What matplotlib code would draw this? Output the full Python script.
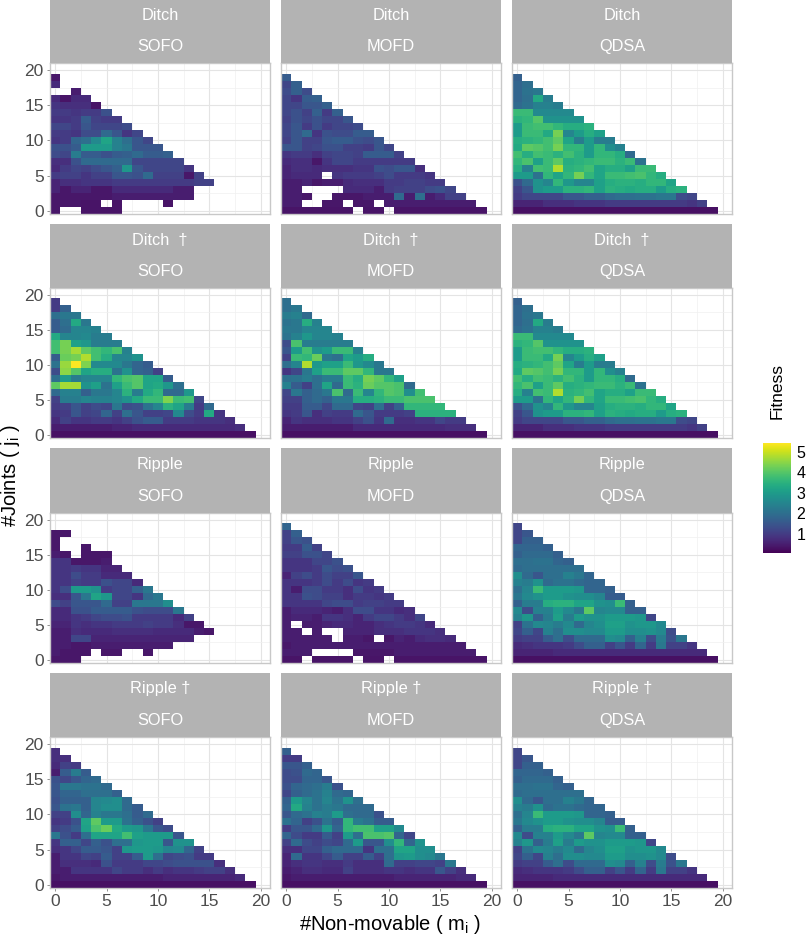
import numpy as np
import matplotlib
matplotlib.use("Agg")
import matplotlib.pyplot as plt

plt.rcParams["font.family"] = ["Liberation Sans", "DejaVu Sans"]
plt.rcParams["mathtext.fontset"] = "custom"
plt.rcParams["mathtext.rm"] = "Liberation Sans"

N = None  # no data for this cell

# each panel: rows from j=19 down to j=0, entries are m=0,1,2...
DITCH_SOFO = [
    [.4],
    [.7],
    [N, N, .5],
    [.7, .35, .7, .7],
    [.9, .8, .8, .8, .35],
    [1, 1, .9, 1, 1, 1.4],
    [.9, .9, 1, 1.6, 1.1, 1, 1],
    [1.2, 1.2, 1, 1.5, 1.2, 1.2, 1.2, 1.3],
    [1, 1, .9, 1.3, 1.3, 1.9, 1.5, .9, 1.2],
    [.9, 1, 1.8, 2, 2.6, 3.2, 2.4, 2, 1.5, 1.2],
    [1.4, 1.4, 1.6, 3, 3, 3, 2.4, 2.2, 1.5, 1.5, 1.5],
    [1.3, 1.2, 2.3, 1.6, 1.6, 1.4, 1.6, 1.7, 1.9, 1.6, 1.6, 1.7],
    [.8, .8, 1.4, 1.9, 1.9, 1.9, 1.9, 1.9, 1.2, 1.2, 1.2, 1.2, 1.2],
    [.7, 1, 1.2, 1.1, 1.3, 1.5, 1.7, 2.9, 1.5, 1.2, 1.2, 1.2, 1.2, .9],
    [1, 1.1, 1.1, .9, 1.1, 1.1, 1.5, 1.5, 1.4, 1.9, 1.1, 1.1, 1.1, .4, 1.1],
    [.6, .8, .8, .9, .9, .9, 1, 1, 1, 1, 1, 1, 1, 1, 1.1, 1.1],
    [.6, .4, .6, .6, .4, .4, .7, .7, .7, .7, .7, .7, .5, .5],
    [.4, .4, .4, .4, .4, .4, .5, .5, .5, .5, .5, .5, .5, .5],
    [.4, .4, .4, .35, .35, N, .35, N, N, N, N, .35],
    [.4, N, N, .35, .35, .35, .35],
]
DITCH_MOFD = [
    [1.6],
    [1.2, 1.7],
    [1.3, 1.7, 1.3],
    [1.2, .9, 1.6, 1.7],
    [1.2, 1.2, 1.5, 1.5, 1.7],
    [1.2, 1.4, 1.1, 1.7, 1, 1.7],
    [1.1, 1.4, 1.2, 1.4, 1.2, 1.2, 1.5],
    [1.2, 1.5, 1, 1.4, 1, 1.2, 1.2, 1.3],
    [1.2, 1.5, 1.9, .9, 1.4, 1.3, 1.3, 1.6, 1.6],
    [1.1, 1.5, 1.1, 1.1, 1.5, 1.6, 1.6, 1.4, 1.3, 1.5],
    [1.5, 1.5, 1.1, 1.2, 1.4, 1.4, 1.1, 1.1, 1, 1.5, 1.2],
    [.9, 1, 1, .8, 1.1, 1.2, 1.2, 1.1, 1.6, 1.6, 1.6, 1.1],
    [.7, .8, .8, .4, .9, 1.2, 1.2, 1, 1, 1, 1, 1, 1],
    [.6, .8, .8, .7, .8, .8, .8, .9, .9, 1.4, 1.3, 1.5, 1.5, .8],
    [.6, .7, .7, .7, N, .9, 1, 1, 1, 1.1, 1.3, 1, 1, 1, .9],
    [.5, .5, .6, .4, .5, .5, .7, .8, .8, .8, 1, 1, 1.1, 1.1, 1, 1],
    [.5, .5, N, N, N, N, .7, .7, .7, .5, 1, 1.1, 1.1, 1.1, 1.3, 1.4, 1.2],
    [.5, .5, .4, N, N, .4, .4, .4, .5, .5, .5, 1.9, .5, 2, .5, .7, 1.1, 1.1],
    [.5, .5, N, N, .4, .4, N, .4, .4, N, .5, .5, .5, .5, .5, .5, .5, .5, .5],
    [.35, .35, .35, .35, .35, .35, .35, N, .35, .35, N, .35, .35, .35, .35, .35, .35, .35, .35, .35],
]
DITCH_QDSA = [
    [1.7],
    [1.8, 2],
    [1.8, 2.1, 2.2],
    [1.8, 2, 3.3, 2.3],
    [1.9, 2.1, 2.4, 2.4, 2.3],
    [3.7, 3.7, 2.6, 2.6, 2.6, 2.6],
    [3.5, 3.6, 4, 2.8, 2.8, 2.8, 2.8],
    [3, 3.7, 3.8, 3.8, 3.6, 3.4, 3.4, 3.5],
    [3, 3.7, 3.7, 3.3, 4.3, 2.5, 3, 3.4, 3.1],
    [3.4, 3.5, 3.6, 3.8, 4.1, 3.2, 2.3, 3, 2.3, 2.3],
    [3.3, 4.1, 4, 3.8, 4.3, 3.6, 3.6, 3, 3.6, 2.7, 2.4],
    [3.8, 3.4, 3.8, 3.7, 3.5, 3.8, 3.5, 3, 3.6, 3.6, 3.4, 1.9],
    [3.6, 3.9, 3.1, 3.7, 4.1, 3.4, 3.5, 3.6, 3.7, 3.7, 3.5, 3.7, 2.1],
    [3.4, 2.4, 3.8, 3.7, 4.8, 3.5, 3.6, 3.8, 3.2, 3.4, 3.4, 3.1, 3.7, 3.7],
    [3, 3, 2.1, 3.6, 3.2, 3.6, 4.3, 3.6, 3.2, 3.7, 3.7, 3.8, 3.9, 3.6, 3.4],
    [1.4, 1.9, 2.8, 2.5, 3.6, 2.9, 2.5, 2.5, 3.1, 3.4, 3.5, 3.5, 3.4, 3.6, 3.6, 3.2],
    [1.1, 1.5, 2.8, 3, 3, 3.5, 3.5, 3.6, 3.1, 3.5, 3.4, 3.3, 3.4, 3.4, 3, 3.4, 3.5],
    [1, 1.2, 1.2, 1.2, 1.2, 1.5, 1.5, 1.7, 1.7, 1.9, 2, 2, 2.1, 2.1, 2.2, 2.2, 1.3, 1.2],
    [.6, .6, .6, .8, .8, .8, .9, .9, .9, 1, 1, 1, 1, 1, 1, 1, 1, .9, 1.1],
    [.3, .3, .3, .3, .3, .3, .3, .3, .3, .3, .3, .3, .3, .3, .3, .3, .3, .3, .3, .3],
]
DITCH_D_SOFO = [
    [1],
    [1, 1.7],
    [2, 2.2, 2.2],
    [1.6, 2, 3.3, 2.2],
    [1.6, 1.9, 2.5, 2.5, 2.4],
    [3.3, 2.5, 2.5, 2.6, 2.3, 2.3],
    [3.8, 4.3, 3.1, 2.9, 2.3, 2.3, 2.3],
    [3.8, 4.3, 4.7, 4.1, 3.8, 3.6, 3.9, 2.4],
    [1.6, 4.2, 4.3, 4.8, 3.8, 3.4, 2.5, 2.5, 2.8],
    [2.1, 4.6, 5.4, 4.4, 2.6, 2.6, 2.6, 2.2, 1.8, 1.6],
    [1.3, 4.5, 4, 3.2, 3.4, 3.4, 2.1, 2.8, 1.8, 1.7, 1.1],
    [2, 3, 2.3, 2.5, 2.5, 2.5, 3.6, 3.9, 4, 3.2, 3.2, 1.6],
    [4.1, 4.7, 4.7, 2.8, 3.1, 2.1, 3.1, 3.7, 4, 3.2, 3.3, 2.9, 2],
    [1.9, 2.4, 2.4, 1.7, 2.2, 2.2, 2.5, 3.5, 2.3, 3.3, 3.6, 1.9, 1.9, 2.9],
    [1.1, 2.3, 2.3, 2.5, 2.4, 2.4, 2.5, 2.8, 3.3, 3.7, 3.7, 4.4, 3.7, 3.8, 1.2],
    [1, 1.1, 1.5, 1.1, 1.3, 1.2, 2.2, 1.3, 1.4, 2.1, 2.5, 3.5, 3.2, 2.3, 1, 1.9],
    [.9, 1, 1.5, 1.1, 1.2, 1.8, 1.1, 2, 1.5, 1.1, 1.1, 1.2, 2.6, 1.3, 1, 3.3, .9],
    [.7, 1.1, .9, .9, 1, 1, .9, 1.1, 1.4, 1.6, 1.6, 1, 1, 1, .9, .9, .9, .8],
    [.5, .5, .5, .5, .5, .5, .6, .6, .7, .7, .7, .7, .7, .7, .7, .7, .7, .7, .8],
    [.3, .3, .3, .3, .3, .3, .3, .3, .3, .3, .3, .3, .3, .3, .3, .3, .3, .3, .3, .3],
]
DITCH_D_MOFD = [
    [2],
    [2, 2.2],
    [2.3, 2.4, 1.9],
    [2.1, 2.2, 3.4, 2.4],
    [2.2, 2.2, 2.5, 2.5, 2.5],
    [2.1, 2.4, 2.9, 2.5, 2.5, 2.4],
    [1.3, 3.9, 2.3, 2.3, 2.3, 2.3, 2.3],
    [1.5, 3, 3.8, 2.8, 3, 3.7, 3.7, 2.4],
    [1.1, 3.7, 3.6, 4.2, 2.2, 2, 3.2, 3, 3.4],
    [2, 2.5, 4.8, 2.9, 3.1, 3.1, 3.7, 2.9, 2.6, 2.2],
    [.9, 1.2, 2.2, 3.1, 3.7, 3.7, 4.1, 4.1, 3.6, 2.2, 2.2],
    [2, 2.1, 2.3, 2, 2.3, 2.3, 3.7, 3.4, 4.3, 4.1, 3.6, 3.1],
    [2.4, 1.6, 1.1, 2, 3.2, 1.9, 3.7, 3.5, 4.2, 4, 4, 3.9, 1.9],
    [1.2, 2.2, 1.7, 1.9, 2.2, 3.9, 1.9, 3.7, 2.5, 3.6, 4, 3.9, 2.7, 3.8],
    [1.1, 1.1, 1.7, 1.9, 1.7, 2.2, 2.2, 3.4, 3.4, 3.5, 3.7, 3.7, 3.9, 3.9, 3.9],
    [1, 1, 1.6, 1.6, 1.2, 1.9, 1.9, 1.2, 1.1, 2, 1.1, 1.7, 3.6, 3.6, 3.6, 3.6],
    [.9, 1, 1.5, .8, 1.1, 1, 1, 1.9, 1.5, 1, 1, 1, 1.1, 3.5, 3.5, 3.5, 3.5],
    [.6, .9, .8, .8, .8, .9, .9, 1.1, 1.4, .9, 1.9, .8, .8, .9, .9, 1.2, 1, 1],
    [.5, .5, .5, .5, .5, .5, .5, .7, .7, .7, .7, .7, .7, .7, .7, .7, .8, .8, .8],
    [.3, .3, .3, .3, .3, .3, .3, .3, .3, .3, .3, .3, .3, .3, .3, .3, .3, .3, .3, .3],
]
RIPPLE_SOFO = [
    [],
    [.4, .4],
    [.4],
    [.4, N, N, .4],
    [.5, .4, N, .4, .4, .4],
    [.9, .9, .4, .4, .4, .5],
    [.9, .9, 1, .9, .9, .6, .6],
    [.9, .9, 1.3, 1, 1, .7, .7, .7],
    [.9, .9, 1.1, 1, 1, 1.4, 1.2, 1.2, .7],
    [.9, 1.3, 3, 3, 2.8, 1, 1.2, 1.2, 1.7, 2.2],
    [.8, .8, 1.5, 2.2, 3.2, 2.9, 1.2, 1.2, .9, 1.9, 2.2],
    [1.3, 1.1, 1.5, 1.5, 1.5, 1.9, 1.1, 1.1, 2.2, 2.2, 2.2, 2.7],
    [.7, .7, 1.4, 1.4, 1.6, 1.6, 1.6, 1.6, 1.4, 1.3, 1.3, 1.3, 2.2],
    [.7, .7, .9, 1, 1.2, 1.3, 1.3, 1.4, 1, 1, 1, 1, .7, 1.1],
    [.6, .6, .9, .8, .9, .9, 1, 1, 1, 1.1, 1, 1, .8, .4, .4],
    [.5, .5, .8, .7, .7, .7, .8, .8, .8, .8, .7, .7, .7, .7, .5, .4],
    [.5, .5, 1.2, 1.2, .6, .6, .6, .6, .6, .6, .6, .6, .6, .6],
    [.5, .5, .4, .4, .5, .5, .5, .5, .5, .5, .5, .5],
    [.5, .4, .4, .4, N, .4, .4, N, N, .4],
    [.4, .4, .4],
]
RIPPLE_MOFD = [
    [1.8],
    [1.1, 1.7],
    [1.1, 1.5, 1.4],
    [1, 1, 1.6, 1.1],
    [1.1, 1.1, 1.4, 1.4, 1.2],
    [.9, .9, .9, 1.2, 1.2, 1.4],
    [.9, .9, .9, 1, 1.5, 1.3, 1.4],
    [.6, 1.1, 1.3, 1, 1.3, 1.1, 1.1, 1.5],
    [.9, .9, .9, 1, 1.3, 1, 1.3, .9, 1],
    [.9, .5, 1.3, 1.3, 1, 1, .8, 1.3, .9, 1],
    [.9, .9, 1.4, 1.3, 1.1, 1.1, .8, 1, 1, .9, 1],
    [.9, .9, .9, .9, 1.2, 1.3, 1.3, 1, 1.1, 1.1, 1, 1],
    [.5, .7, .7, .7, .6, .5, .8, 1.3, 1.3, .9, .9, .7, .8],
    [.5, .6, .6, .5, .9, .9, .8, .6, 1, 1.2, 1.2, 1, .8, 1.2],
    [.5, N, .5, .5, .6, .7, .7, .6, .6, .8, .9, 1, 1, .9, .7],
    [.5, .5, N, .5, N, N, .6, .6, .6, .8, .8, .8, .9, .9, .9, .8],
    [.5, .5, .5, .5, .5, N, .5, .5, .4, N, .4, .6, .5, .7, .8, .8, .7],
    [.4, .5, .5, .5, .5, .5, .5, .5, .5, .5, .5, .5, .5, .5, .5, .5, .5, .5],
    [.5, .5, .5, N, N, N, N, .4, .4, .4, .4, .5, .5, .5, .5, .5, .5, .5, .5],
    [.35, .35, N, .35, .35, .35, .35, N, .35, .35, N, .35, .35, .35, .35, .35, .35, .35, .35, .35],
]
RIPPLE_QDSA = [
    [1.2],
    [1.2, 1.5],
    [1.2, 1.7, 1.7],
    [1.8, 1.8, 1.8, 1.7],
    [1.7, 1.9, 1.9, 1.9, 1.7],
    [2, 2, 2.1, 2.1, 1.8, 1.7],
    [1.9, 2, 2, 2, 2, 2, 2],
    [2.7, 1.9, 1.5, 2, 2, 2.4, 2.2, 1.8],
    [2.4, 2.3, 2.8, 1.9, 2.1, 2.1, 1.9, 1.8, 1.8],
    [2, 2.5, 3.7, 3, 3, 3, 2.9, 1.8, 1.8, 1.7],
    [2.2, 2.6, 2.8, 3, 3, 2.8, 2.7, 2.7, 2.5, 1.6, 1.6],
    [1.7, 2.3, 2.3, 3.4, 3.5, 3.5, 3.2, 3.2, 2.8, 2.7, 3.7, 1.7],
    [2.6, 1.3, 2.4, 2.4, 3, 2.6, 2.2, 4.1, 2.5, 2.6, 2.6, 1.7, 1.7],
    [2.4, 2.9, 1.7, 2.3, 3.1, 2.3, 3, 2.8, 2.8, 3, 3, 3, 2.9, 1.2],
    [1.1, 2.1, 2.6, 2.5, 2.3, 2.6, 1.9, 2.5, 2.7, 3.1, 3.1, 2.8, 2.9, 2.9, 2.6],
    [1.2, 1.7, 1.2, 2.4, 2, 2.7, 2.7, 2.6, 2.6, 3, 3, 2.7, 2.7, 2.8, 2.6, 1.3],
    [1, 1.1, 1.1, 1.6, 2, 1.3, 1.9, 1.9, 1.9, 2.7, 2.6, 1.7, 2.4, 1.3, 2.3, 1.4, 2.2],
    [.7, .8, .9, .9, .9, 1, 1.3, 1.7, 1.7, 1.1, 1.5, 1, 1.8, 1, 2.2, 1.1, 1.1, .9],
    [.6, .6, .6, .6, .7, .7, .7, .7, .7, .7, .7, .7, .7, .7, .7, .7, .7, .7, .7],
    [.3, .3, .3, .3, .3, .3, .3, .3, .3, .3, .3, .3, .3, .3, .3, .3, .3, .3, .3, .3],
]
RIPPLE_D_SOFO = [
    [.8],
    [.8, .8],
    [.7, 1.1, 1],
    [.5, 1.6, 2.3, 1.6],
    [1.4, 1.2, 1.5, 1.8, 1.9],
    [1.5, 2.2, 2.2, 2.1, 2.1, 1.9],
    [1.5, 1.8, 1.8, 2, 2, 2, 1.7],
    [1.4, 1.7, 1.7, 1.7, 2.5, 2.6, 2.7, 1.9],
    [1.5, 2.1, 2.2, 1.7, 2.5, 2.7, 2.7, 1.9, 1.6],
    [1.1, 1.1, 2.7, 1.8, 2.4, 2.2, 2.2, 2, 1.6, 1.9],
    [.9, 1, 1.4, 3.2, 4.1, 3, 3, 2.1, 1.7, 1.4, 1.1],
    [1.1, 1.3, 1.6, 3.1, 3.9, 4.2, 3.3, 3, 2.9, 2.2, 1.5, 1.3],
    [2.2, 1.4, 1, 2, 3.2, 3.2, 3.2, 3.8, 3.1, 3, 3, 3, 1.5],
    [.9, 1.7, 1.7, 1.2, 1.7, 1.4, 2, 2, 2.9, 3, 3, 1.5, 2.8, 2.8],
    [.8, .9, 1.2, 1.6, 1.6, 1.5, 1.1, 2.9, 3, 3, 2.9, 2.5, 2.6, 1.8, 1.1],
    [.5, .9, .9, 1.2, 1.1, 1.6, 1.1, 1.1, 1.6, 3, 2, 1.2, 1.3, 1.4, 1, 1],
    [.5, .8, .8, .8, .7, 1.4, 1, 1, 1, 1.2, 1.2, 1.3, 1.4, 1.4, 1.4, 1.4, .8],
    [.5, .5, .9, .9, .9, .9, 1.2, 1, 1, .8, 1, .8, .9, .9, 1, 1.1, 1.1, .8],
    [.4, .5, .5, .5, .5, .5, .5, .5, .5, .5, .5, .6, .6, .6, .6, .6, .6, .6, .7],
    [.3, .3, .3, .3, .3, .3, .3, .3, .3, .3, .3, .3, .3, .3, .3, .3, .3, .3, .3, .3],
]
RIPPLE_D_MOFD = [
    [1.7],
    [1, 1],
    [1.5, 1.5, 1.7],
    [1.3, 1.4, 1.9, 1.8],
    [1.3, 1.3, 1.8, 1.8, 1.5],
    [1.4, 1.8, 1.9, 2, 2.3, 1.4],
    [1.2, 1.7, 1.9, 2.1, 2.4, 1.9, 1.8],
    [1.7, 3, 2.5, 2.1, 2.5, 2.1, 2.8, 2],
    [1.8, 3.3, 2.4, 2.1, 2.3, 2.2, 1.9, 1.9, 1.9],
    [1.5, 1.9, 2.1, 2.4, 2.3, 3, 2, 1.9, 1.9, 1.4],
    [2.1, 1.8, 1.1, 1.4, 2.1, 1.6, 3.6, 2.3, 2.1, 1.6, 1.6],
    [1, 1.5, 1.5, 1.9, 2.9, 1.8, 3.6, 3.8, 3.8, 3.1, 3.1, 2.6],
    [1.8, 1.3, 1, 1, 1.6, 1.1, 3, 2, 3.9, 3.9, 4, 1.8, 1.2],
    [1.1, 1.9, 1.3, 1.1, 1.3, 1.2, 1.9, 3, 1.5, 1.5, 2.7, 3.6, 1.8, 2.8],
    [.8, .8, 1.2, 1.2, 1.7, 1.9, 1.9, 1.9, .9, 2, 2, 3.2, 3.2, 2.7, 2.7],
    [.6, 1.9, .9, .9, 1.2, 1.6, 1.1, 1.1, 1.6, 1.1, 2, 2.9, 3, 2.7, 2.6, 2.2],
    [.6, .8, .9, .9, .8, .8, 1, .8, .8, .8, 1.9, 1.1, 1.1, 1.2, 1.2, 1.1, 2.2],
    [.5, .6, .8, .8, .7, .7, 1.1, .8, .8, .8, .9, .9, .8, .9, .9, 1.5, 1.1, .8],
    [.4, .5, .5, .5, .5, .5, .5, .5, .5, .5, .5, .6, .6, .6, .6, .6, .6, .7, .7],
    [.3, .3, .3, .3, .3, .3, .3, .3, .3, .3, .3, .3, .3, .3, .3, .3, .3, .3, .3, .3],
]

STRIP_TOP = ["Ditch", "Ditch  \u2020", "Ripple", "Ripple \u2020"]
STRIP_BOTTOM = ["SOFO", "MOFD", "QDSA"]
PANELS = [
    [DITCH_SOFO, DITCH_MOFD, DITCH_QDSA],
    [DITCH_D_SOFO, DITCH_D_MOFD, DITCH_QDSA],
    [RIPPLE_SOFO, RIPPLE_MOFD, RIPPLE_QDSA],
    [RIPPLE_D_SOFO, RIPPLE_D_MOFD, RIPPLE_QDSA],
]
AXIS_TICKS = [0, 5, 10, 15, 20]
MINOR_TICKS = [2.5, 7.5, 12.5, 17.5]
COLOR_TICKS = [1, 2, 3, 4, 5]

W, H = 809, 936
COL_X = [(50, 270), (281, 501), (512, 732)]
ROW_Y = [(0, 63, 214), (224, 288, 438), (448, 513, 663), (673, 737, 888)]
GRAY = "#b3b3b3"


def to_grid(rows):
    grid = np.full((20, 20), np.nan)
    for i, row in enumerate(rows):
        for m, val in enumerate(row):
            if val is not None:
                grid[19 - i, m] = val
    return grid


def px_axes(x0, y0, x1, y1):
    return fig.add_axes([x0 / W, 1 - y1 / H, (x1 - x0) / W, (y1 - y0) / H])


fig = plt.figure(figsize=(W / 100, H / 100), dpi=100)
edges = np.arange(21) - 0.5

for r, (strip_y, top, bottom) in enumerate(ROW_Y):
    for c, (left, right) in enumerate(COL_X):
        ax = px_axes(left, top, right, bottom)
        mesh = ax.pcolormesh(edges, edges, to_grid(PANELS[r][c]), cmap="viridis",
                             vmin=0.07, vmax=5.43, zorder=2, rasterized=True)
        ax.set_xlim(-0.5, 20.9)
        ax.set_ylim(-0.45, 21)
        ax.set_xticks(AXIS_TICKS)
        ax.set_yticks(AXIS_TICKS)
        ax.set_xticks(MINOR_TICKS, minor=True)
        ax.set_yticks(MINOR_TICKS, minor=True)
        ax.grid(True, which="major", color="#e4e4e4", lw=0.8, zorder=0)
        ax.grid(True, which="minor", color="#f0f0f0", lw=0.5, zorder=0)
        ax.set_axisbelow(True)
        ax.tick_params(which="minor", length=0)
        ax.tick_params(which="major", length=2.5, width=0.6, color="#808080",
                       labelsize=12.5, labelcolor="#4d4d4d", pad=2,
                       left=(c == 0), bottom=(r == 3),
                       labelleft=(c == 0), labelbottom=(r == 3))
        for s in ax.spines.values():
            s.set_color("#c8c8c8")
            s.set_linewidth(1.0)

        sax = px_axes(left, strip_y, right, top)
        sax.set_facecolor(GRAY)
        sax.set_xticks([])
        sax.set_yticks([])
        for s in sax.spines.values():
            s.set_visible(False)
        sax.text(0.5, 0.75, STRIP_TOP[r], transform=sax.transAxes, color="white",
                 fontsize=11.8, ha="center", va="center")
        sax.text(0.5, 0.26, STRIP_BOTTOM[c], transform=sax.transAxes, color="white",
                 fontsize=11.8, ha="center", va="center")

fig.text(390 / W, 1 - 925 / H, r"#Non-movable ( m$_{\mathrm{i}}$ )", fontsize=14.5,
         ha="center", va="center", color="black")
fig.text(11 / W, 1 - 476 / H, r"#Joints ( j$_{\mathrm{i}}$ )", fontsize=14.5, rotation=90,
         ha="center", va="center", color="black")

cax = px_axes(763, 443, 791, 553)
cb = fig.colorbar(mesh, cax=cax, ticks=COLOR_TICKS)
cb.outline.set_visible(False)
cb.ax.tick_params(length=0, labelsize=11.5, labelcolor="black", pad=4)
fig.text(777 / W, 1 - 391 / H, "Fitness", fontsize=12.5, rotation=90,
         ha="center", va="center", color="black")

fig.savefig("out.png", dpi=100)
